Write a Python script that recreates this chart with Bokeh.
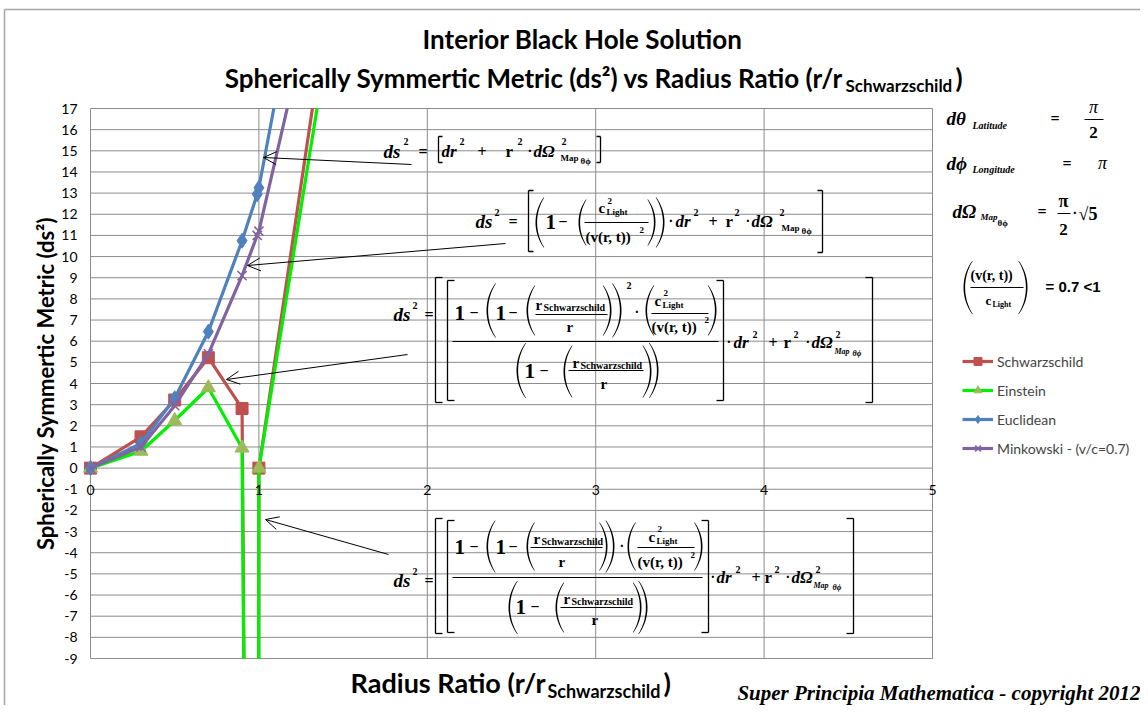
import math
from bokeh.plotting import figure
from bokeh.models import (Label, Arrow, OpenHead, PolyAnnotation, Legend,
                          LegendItem, BoxAnnotation, Range1d)
from bokeh.embed import file_html
from bokeh.resources import INLINE

# ---------------- data ----------------
schw_x = [0, 0.3, 0.5, 0.7, 0.9, 0.99, 1.0, 1.4]
schw_y = [0, 1.48, 3.22, 5.22, 2.82, -90, 0, 21.4]
ein_x = [0, 0.3, 0.5, 0.7, 0.9, 0.99, 1.0, 1.4]
ein_y = [0, 0.8, 2.25, 3.8, 0.95, -90, 0, 19.7]
euc_x = [0, 0.3, 0.5, 0.7, 0.9, 0.99, 1.0, 1.2]
euc_y = [0, 1.17, 3.3, 6.45, 10.75, 12.95, 13.25, 21.7]
mink_x = [0, 0.3, 0.5, 0.7, 0.9, 0.99, 1.0, 1.2]
mink_y = [0, 1.0, 2.95, 5.4, 9.1, 11.0, 11.2, 18.1]
series_names = ["Schwarzschild", "Einstein", "Euclidean", "Minkowski - (v/c=0.7)"]
x_ticks = [0, 1, 2, 3, 4, 5]
y_ticks = list(range(-9, 18))
X0, X1, Y0, Y1 = 0, 5, -9, 17

# ---------------- layout (pixel positions of the plot area) ----------------
W, H = 1140, 705
PL, PT, PW, PH = 90, 108, 842, 550
SANS = "Lato"
SERIF = "Liberation Serif"
GRID = "#8c8c8c"


def dx(px):
    return X0 + (px - PL) / PW * (X1 - X0)


def dy(py):
    return Y1 - (py - PT) / PH * (Y1 - Y0)


p = figure(width=W, height=H, title=None,
           x_range=Range1d(dx(0), dx(W)), y_range=Range1d(dy(H), dy(0)),
           x_axis_location=None, y_axis_location=None,
           output_backend="svg", toolbar_location=None,
           min_border=0, min_border_left=0, min_border_right=0,
           min_border_top=0, min_border_bottom=0)
p.grid.visible = False
p.outline_line_color = None
p.background_fill_color = "white"
p.border_fill_color = "white"


def T(px, py, s, size=15, style="bold", font=SERIF, align="left",
      base="middle", angle=0.0, color="black"):
    p.add_layout(Label(x=dx(px), y=dy(py), text=s, text_font=font,
                       text_font_size=f"{size}px", text_font_style=style,
                       text_align=align, text_baseline=base, angle=angle,
                       text_color=color))


def S(x0, y0, x1, y1, w=1.2, color="black"):
    p.add_layout(Arrow(x_start=dx(x0), y_start=dy(y0), x_end=dx(x1),
                       y_end=dy(y1), start=None, end=None, line_width=w,
                       line_color=color))


def BR(x, y0, y1, side, t=5, w=1.3):
    d = t if side == "l" else -t
    S(x, y0, x, y1, w)
    S(x, y0, x + d, y0, w)
    S(x, y1, x + d, y1, w)


def PAREN(x, yc, h, side, th=1.6):
    R = h * 0.85
    a = math.asin(min(0.99, h / 2 / R))
    n = 18
    out, inn = [], []
    for i in range(n + 1):
        t = -a + 2 * a * i / n
        off = R - R * math.cos(t)
        yy = yc + R * math.sin(t)
        wv = th * (1 - 0.6 * (t / a) ** 2)
        if side == "l":
            out.append((x + off, yy))
            inn.append((x + off + wv, yy))
        else:
            out.append((x - off, yy))
            inn.append((x - off - wv, yy))
    pts = out + inn[::-1]
    p.add_layout(PolyAnnotation(xs=[dx(u) for u, _ in pts],
                                ys=[dy(v) for _, v in pts],
                                fill_color="black", fill_alpha=1,
                                line_color=None))


def ARROW(x0, y0, x1, y1):
    p.add_layout(Arrow(x_start=dx(x0), y_start=dy(y0), x_end=dx(x1),
                       y_end=dy(y1), start=None,
                       end=OpenHead(size=13, line_width=1, line_color="black"),
                       line_width=1, line_color="black"))


# ---------------- grid (plot area) ----------------
p.segment(x0=[X0] * len(y_ticks), x1=[X1] * len(y_ticks), y0=y_ticks, y1=y_ticks,
          line_color=GRID, line_width=1)
p.segment(x0=x_ticks, x1=x_ticks, y0=[Y0] * len(x_ticks), y1=[Y1] * len(x_ticks),
          line_color=GRID, line_width=1)

# ---------------- series ----------------
RED, GREEN, OLIVE, BLUE, PURPLE = "#C0504D", "#00F000", "#9BBB59", "#4F81BD", "#8064A2"

r1l = p.line(schw_x, schw_y, line_color=RED, line_width=3.2)
r1m = p.scatter(schw_x, schw_y, marker="square", size=12, fill_color=RED, line_color=RED)
r2l = p.line(ein_x, ein_y, line_color=GREEN, line_width=3.2)
r2m = p.scatter(ein_x, ein_y, marker="triangle", size=14, fill_color=OLIVE, line_color=OLIVE)
r3l = p.line(euc_x, euc_y, line_color=BLUE, line_width=3.2)
r3m = p.scatter(euc_x, euc_y, marker="diamond", size=15, fill_color=BLUE, line_color=BLUE)
r4l = p.line(mink_x, mink_y, line_color=PURPLE, line_width=3.2)
r4m = p.scatter(mink_x, mink_y, marker="x", size=13, line_color=PURPLE, line_width=1.6)

# masks: keep the series inside the plot area
p.add_layout(BoxAnnotation(bottom=dy(PT - 0.5), top=dy(-50), fill_color="white",
                           fill_alpha=1, line_color=None))
p.add_layout(BoxAnnotation(top=dy(PT + PH + 0.5), bottom=dy(H + 50),
                           fill_color="white", fill_alpha=1, line_color=None))

# chart-area border (light)
S(4, 9, W, 9, 1.5, "#a6a6a6")
S(4, 9, 4, H, 1.5, "#a6a6a6")

legend = Legend(items=[LegendItem(label=series_names[0], renderers=[r1l, r1m]),
                       LegendItem(label=series_names[1], renderers=[r2l, r2m]),
                       LegendItem(label=series_names[2], renderers=[r3l, r3m]),
                       LegendItem(label=series_names[3], renderers=[r4l, r4m])],
                location=(962, H - 458), glyph_width=31, glyph_height=20,
                label_standoff=4, spacing=9, padding=0, margin=0,
                label_height=20, border_line_color=None,
                background_fill_alpha=0, label_text_font=SANS,
                label_text_font_size="14px")
p.add_layout(legend)

# tick labels
for t in x_ticks:
    p.add_layout(Label(x=t, y=dy(489), text=str(t), text_font=SANS,
                       text_font_size="14px", text_align="center",
                       text_baseline="middle", text_color="black"))
for t in y_ticks:
    p.add_layout(Label(x=dx(77), y=t, text=str(t), text_font=SANS,
                       text_font_size="14px", text_align="right",
                       text_baseline="middle", text_color="black"))

# ---------------- titles ----------------
T(582, 38, "Interior Black Hole Solution", 26, "bold", SANS, "center")
T(843, 77, "Spherically Symmertic Metric (ds\u00b2) vs Radius Ratio (r/r", 26, "bold", SANS, "right")
T(845, 85, "Schwarzschild", 17, "bold", SANS, "left")
T(955, 77, ")", 26, "bold", SANS, "left")

T(545, 682, "Radius Ratio (r/r", 27, "bold", SANS, "right")
T(547, 690, "Schwarzschild", 18, "bold", SANS, "left")
T(663, 682, ")", 27, "bold", SANS, "left")

T(45, 383, "Spherically Symmertic Metric (ds\u00b2)", 22, "bold", SANS, "center",
  angle=math.pi / 2)

T(1140, 692, "Super Principia Mathematica - copyright 2012", 21, "bold italic",
  SERIF, "right")

# ---------------- arrows ----------------
ARROW(411, 164, 263, 157)
ARROW(505, 243, 247, 265)
ARROW(407, 354, 226, 379)
ARROW(388, 554, 265, 519)

# ---------------- equation 1 (Euclidean) ----------------
T(383, 151, "ds", 19, "bold italic")
T(403, 141, "2", 10)
T(418, 151, "=", 16)
BR(438, 136, 162, "l", 4)
T(441, 151, "dr", 17, "bold italic")
T(459, 141, "2", 10)
T(477, 151, "+", 16)
T(505, 151, "r", 17)
T(517, 141, "2", 10)
T(527, 151, "\u00b7", 14)
T(533, 151, "d\u03a9", 17, "bold italic")
T(561, 141, "2", 10)
T(560, 157, "Map", 9)
T(580, 160, "\u03b8\u03d5", 9)
BR(600, 136, 162, "r", 4)

# ---------------- equation 2 (Minkowski) ----------------
T(475, 221, "ds", 19, "bold italic")
T(494, 212, "2", 10)
T(508, 221, "=", 16)
BR(528, 190, 251, "l")
PAREN(535, 222, 50, "l")
T(545, 221, "1", 21)
T(558, 221, "\u2212", 16)
PAREN(578, 222, 46, "l")
T(598, 207, "c", 15)
T(607, 200, "2", 9)
T(606, 211, "Light", 9)
S(584, 222, 648, 222, 1.0)
T(585, 236, "(v(r, t))", 15)
T(639, 229, "2", 9)
PAREN(655, 222, 46, "r")
PAREN(664, 222, 50, "r")
T(668, 221, "\u00b7", 14)
T(675, 221, "dr", 17, "bold italic")
T(693, 212, "2", 10)
T(708, 221, "+", 16)
T(725, 221, "r", 17)
T(734, 212, "2", 10)
T(745, 221, "\u00b7", 14)
T(751, 221, "d\u03a9", 17, "bold italic")
T(779, 212, "2", 10)
T(781, 227, "Map", 9)
T(801, 230, "\u03b8\u03d5", 9)
BR(822, 190, 252, "r")

# ---------------- equation 3 (Schwarzschild) ----------------
T(393, 314, "ds", 19, "bold italic")
T(412, 305, "2", 10)
T(424, 314, "=", 16)
BR(435, 277, 402, "l", 7)
BR(447, 280, 400, "l", 7)
BR(723, 280, 400, "r", 7)
BR(872, 277, 402, "r", 7)
S(452, 341, 718, 341, 1.0)
T(454, 312, "1", 21)
T(469, 312, "\u2212", 16)
PAREN(486, 310, 54, "l")
T(495, 312, "1", 21)
T(508, 312, "\u2212", 16)
PAREN(526, 310, 50, "l")
T(535, 304, "r", 15)
T(543, 307, "Schwarzschild", 10)
S(535, 314, 607, 314, 1.0)
T(566, 326, "r", 15)
PAREN(611, 310, 50, "r")
PAREN(621, 310, 54, "r")
T(626, 285, "2", 10)
T(634, 312, "\u00b7", 14)
PAREN(645, 310, 50, "l")
T(654, 300, "c", 15)
T(663, 292, "2", 9)
T(662, 304, "Light", 9)
S(651, 313, 708, 313, 1.0)
T(651, 326, "(v(r, t))", 15)
T(704, 319, "2", 9)
PAREN(716, 310, 50, "r")
PAREN(516, 370, 55, "l")
T(524, 370, "1", 21)
T(539, 370, "\u2212", 16)
PAREN(563, 371, 52, "l")
T(572, 362, "r", 15)
T(580, 365, "Schwarzschild", 10)
S(568, 370, 643, 370, 1.0)
T(600, 383, "r", 15)
PAREN(651, 371, 52, "r")
PAREN(658, 370, 55, "r")
T(726, 342, "\u00b7", 14)
T(733, 342, "dr", 17, "bold italic")
T(752, 334, "2", 10)
T(768, 342, "+", 16)
T(783, 342, "r", 17)
T(793, 334, "2", 10)
T(805, 342, "\u00b7", 14)
T(811, 342, "d\u03a9", 17, "bold italic")
T(835, 334, "2", 10)
T(834, 351, "Map", 8, "bold italic")
T(852, 353, "\u03b8\u03d5", 8, "bold italic")

# ---------------- equation 4 (Einstein) ----------------
T(393, 580, "ds", 19, "bold italic")
T(412, 571, "2", 10)
T(424, 580, "=", 16)
BR(435, 518, 633, "l", 7)
BR(447, 520, 632, "l", 7)
BR(708, 520, 632, "r", 7)
BR(853, 518, 633, "r", 7)
S(452, 577, 702, 577, 1.0)
T(454, 546, "1", 21)
T(469, 546, "\u2212", 16)
PAREN(486, 546, 52, "l")
T(495, 546, "1", 21)
T(508, 546, "\u2212", 16)
PAREN(526, 546, 48, "l")
T(533, 538, "r", 15)
T(541, 541, "Schwarzschild", 10)
S(530, 547, 602, 547, 1.0)
T(558, 561, "r", 15)
PAREN(607, 546, 48, "r")
PAREN(614, 546, 52, "r")
T(619, 546, "\u00b7", 14)
PAREN(627, 546, 48, "l")
T(648, 536, "c", 15)
T(657, 528, "2", 9)
T(656, 540, "Light", 9)
S(637, 547, 694, 547, 1.0)
T(637, 561, "(v(r, t))", 15)
T(690, 554, "2", 9)
PAREN(702, 546, 48, "r")
PAREN(508, 607, 53, "l")
T(515, 606, "1", 21)
T(530, 606, "\u2212", 16)
PAREN(555, 607, 50, "l")
T(563, 598, "r", 15)
T(571, 601, "Schwarzschild", 10)
S(560, 607, 632, 607, 1.0)
T(591, 619, "r", 15)
PAREN(641, 607, 50, "r")
PAREN(647, 607, 53, "r")
T(710, 577, "\u00b7", 14)
T(716, 577, "dr", 17, "bold italic")
T(735, 569, "2", 10)
T(751, 577, "+", 16)
T(764, 577, "r", 17)
T(774, 569, "2", 10)
T(785, 577, "\u00b7", 14)
T(791, 577, "d\u03a9", 17, "bold italic")
T(815, 569, "2", 10)
T(813, 585, "Map", 8, "bold italic")
T(832, 587, "\u03b8\u03d5", 8, "bold italic")

# ---------------- right-hand definitions ----------------
T(946, 118, "d\u03b8", 19, "bold italic")
T(972, 125, "Latitude", 10, "bold italic")
T(1050, 118, "=", 16)
T(1093, 106, "\u03c0", 18, "italic", SERIF, "center")
S(1084, 119, 1103, 119, 1.2)
T(1093, 132, "2", 17, "bold", SERIF, "center")

T(946, 163, "d\u03d5", 19, "bold italic")
T(972, 169, "Longitude", 10, "bold italic")
T(1062, 163, "=", 16)
T(1102, 162, "\u03c0", 18, "italic", SERIF, "center")

T(952, 211, "d\u03a9", 19, "bold italic")
T(980, 216, "Map", 9, "bold italic")
T(997, 222, "\u03b8\u03d5", 9)
T(1037, 211, "=", 16)
T(1063, 200, "\u03c0", 18, "bold", SERIF, "center")
S(1057, 213, 1070, 213, 1.2)
T(1063, 229, "2", 17, "bold", SERIF, "center")
T(1072, 213, "\u00b7", 14)
T(1078, 213, "\u221a5", 18)

PAREN(963, 287, 53, "l")
T(970, 275, "(v(r, t))", 14)
S(970, 287, 1023, 287, 1.0)
T(985, 300, "c", 13)
T(992, 304, "Light", 8)
PAREN(1027, 287, 53, "r")
T(1045, 286, "= 0.7 <1", 15, "bold", "Liberation Sans")

open("out.html", "w").write(file_html(p, INLINE))
